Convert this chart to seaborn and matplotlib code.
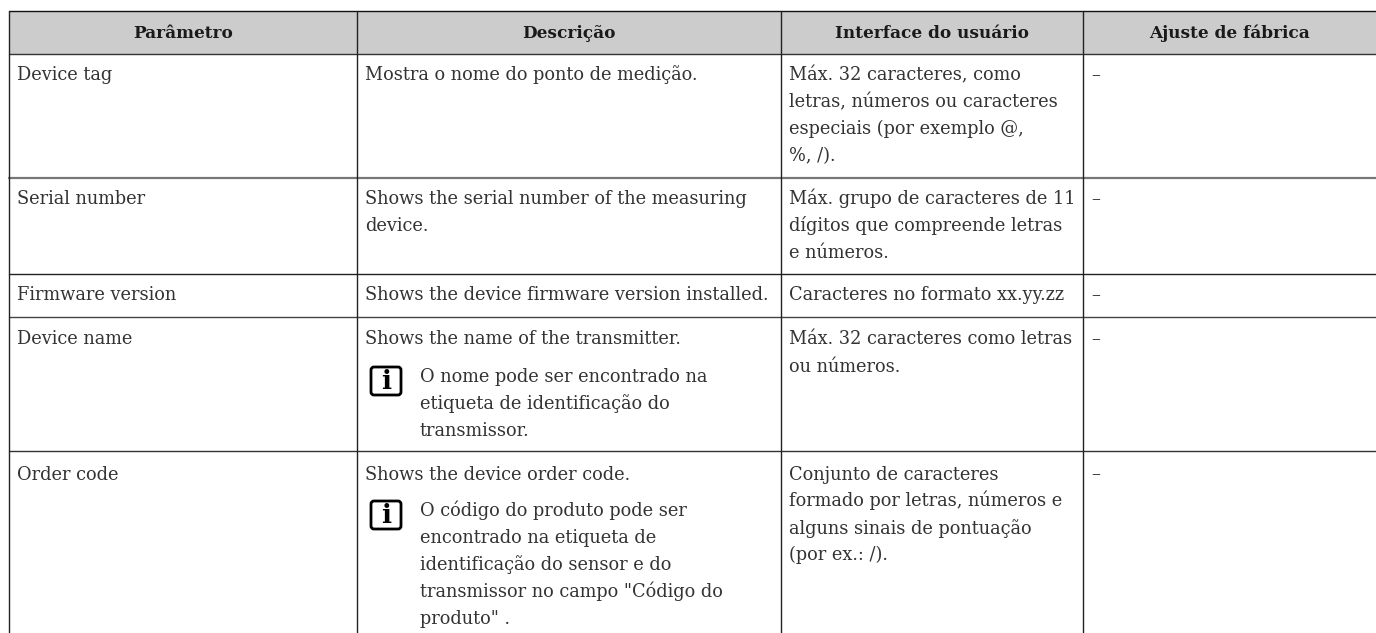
import matplotlib
matplotlib.use("Agg")
import matplotlib.pyplot as plt
import seaborn as sns
from matplotlib.patches import FancyBboxPatch

# table contents, one list per column
params = ["Device tag", "Serial number", "Firmware version", "Device name", "Order code"]
descriptions = [
    ["Mostra o nome do ponto de medição."],
    ["Shows the serial number of the measuring", "device."],
    ["Shows the device firmware version installed."],
    ["Shows the name of the transmitter."],
    ["Shows the device order code."],
]
notes = [
    [],
    [],
    [],
    ["O nome pode ser encontrado na", "etiqueta de identificação do", "transmissor."],
    ["O código do produto pode ser", "encontrado na etiqueta de", "identificação do sensor e do",
     "transmissor no campo \"Código do", "produto\" ."],
]
interface = [
    ["Máx. 32 caracteres, como", "letras, números ou caracteres", "especiais (por exemplo @,", "%, /)."],
    ["Máx. grupo de caracteres de 11", "dígitos que compreende letras", "e números."],
    ["Caracteres no formato xx.yy.zz"],
    ["Máx. 32 caracteres como letras", "ou números."],
    ["Conjunto de caracteres", "formado por letras, números e", "alguns sinais de pontuação", "(por ex.: /)."],
]
factory = ["–", "–", "–", "–", "–"]
headers = ["Parâmetro", "Descrição", "Interface do usuário", "Ajuste de fábrica"]

# layout in image pixels
W, H = 1376, 633
col_x = [9, 357, 781, 1083, 1376]
row_y = [54, 178, 274, 317, 451, 633]
text_offset = [26.5, 26, 26.5, 27.5, 28.5]
top = 11
line_h = 27
pad_x = 8
font = "DejaVu Serif"
fs = 12.8

sns.set_theme(style="white")
plt.rcParams['font.family'] = [font]

fig = plt.figure(figsize=(W / 100, H / 100), dpi=100)
ax = fig.add_axes([0, 0, 1, 1])
ax.set_xlim(0, W)
ax.set_ylim(H, 0)
ax.axis("off")

ax.fill_between([col_x[0], col_x[-1]], top, row_y[0], color="#cccccc", lw=0, zorder=0)

for i, h in enumerate(headers):
    ax.text((col_x[i] + col_x[i + 1]) / 2, 38, h, ha="center", va="baseline",
            fontsize=12.2, fontweight="bold", color="#1a1a1a")

line_color = "#222222"
ax.plot([col_x[0], col_x[-1]], [top, top], color="#111111", lw=1.0)
row_lw = [1.0, 1.6, 1.0, 1.0, 1.0]
row_col = ["#333333", "#777777", "#222222", "#444444", "#333333"]
for y, lw, c in zip(row_y[:-1], row_lw, row_col):
    ax.plot([col_x[0], col_x[-1]], [y, y], color=c, lw=lw)
for x in col_x[:-1]:
    ax.plot([x, x], [top, H], color=line_color, lw=1.0)


def put_lines(x, y, lines):
    for k, s in enumerate(lines):
        ax.text(x, y + k * line_h, s, ha="left", va="baseline", fontsize=fs, color="#333333")


for i in range(5):
    first = row_y[i] + text_offset[i]
    put_lines(col_x[0] + pad_x, first, [params[i]])
    put_lines(col_x[1] + pad_x, first, descriptions[i])
    put_lines(col_x[2] + pad_x, first, interface[i])
    put_lines(col_x[3] + pad_x, first, [factory[i]])
    if notes[i]:
        ny = row_y[i] + 65
        put_lines(col_x[1] + 63, ny, notes[i])
        ax.add_patch(FancyBboxPatch((col_x[1] + 14, ny - 15), 30, 28,
                                    boxstyle="round,pad=0,rounding_size=3",
                                    fc="white", ec="black", lw=2.0))
        ax.text(col_x[1] + 29, ny + 7, "i", ha="center", va="baseline", fontsize=19,
                fontweight="bold", color="black")

fig.savefig("out.png", dpi=100)
